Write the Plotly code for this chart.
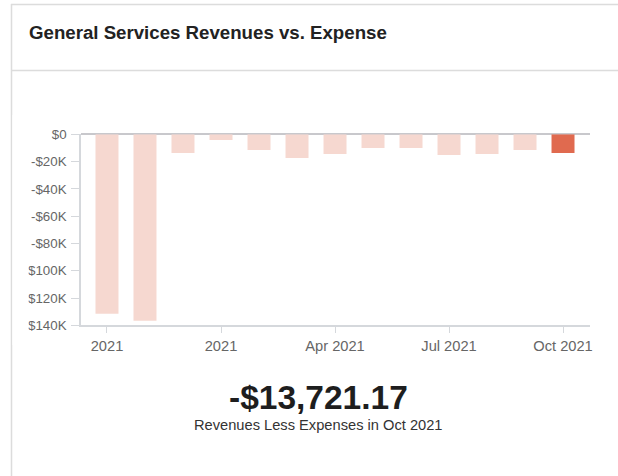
import plotly.graph_objects as go

# Monthly net result (revenues less expenses), Oct 2020 - Oct 2021
months = ["2020-10", "2020-11", "2020-12", "2021-01", "2021-02", "2021-03", "2021-04",
          "2021-05", "2021-06", "2021-07", "2021-08", "2021-09", "2021-10"]
net_values = [-131500, -136600, -13700, -4200, -11500, -17400, -14400,
              -10000, -10000, -15200, -14400, -11500, -13721.17]

# Axis ticks
x_tick_vals = ["2020-10", "2021-01", "2021-04", "2021-07", "2021-10"]
x_tick_text = ["2021", "2021", "Apr 2021", "Jul 2021", "Oct 2021"]
y_tick_vals = [0, -20000, -40000, -60000, -80000, -100000, -120000, -140000]
y_tick_text = ["$0", "-$20K", "-$40K", "-$60K", "-$80K", "-$100K", "-$120K", "-$140K"]

W, H = 618, 476
FONT = "Liberation Sans, Arial, sans-serif"
LIGHT = "#f6d8d0"
ACCENT = "#e06a4f"
AXIS = "#d5d8dc"
BORDER = "#dcdcdc"


def px(x):
    return x / W


def py(y):
    return 1 - y / H


colors = [LIGHT] * (len(months) - 1) + [ACCENT]

fig = go.Figure(
    go.Bar(
        x=months,
        y=net_values,
        marker=dict(color=colors, line=dict(width=0)),
        hoverinfo="skip",
    )
)

latest = net_values[-1]
sign = "-" if latest < 0 else ""
latest_text = f"{sign}${abs(latest):,.2f}"

fig.update_layout(
    width=W,
    height=H,
    margin=dict(l=0, r=0, t=0, b=0, autoexpand=False),
    paper_bgcolor="white",
    plot_bgcolor="white",
    showlegend=False,
    bargap=0.395,
    font=dict(family=FONT, color="#666666"),
    xaxis=dict(
        type="category",
        domain=[px(81), px(590)],
        range=[-0.684, 12.71],
        tickvals=x_tick_vals,
        ticktext=x_tick_text,
        ticks="outside",
        ticklen=6,
        tickcolor=AXIS,
        showline=True,
        linecolor=AXIS,
        linewidth=1.5,
        showgrid=False,
        automargin=False,
        tickfont=dict(size=14.67, color="#666666"),
    ),
    yaxis=dict(
        domain=[py(325.3), py(134.3)],
        range=[-140000, 0],
        tickvals=y_tick_vals,
        ticktext=y_tick_text,
        ticks="outside",
        ticklen=8,
        tickcolor=AXIS,
        ticklabelstandoff=2,
        showline=True,
        linecolor=AXIS,
        linewidth=1.5,
        showgrid=False,
        automargin=False,
        zeroline=True,
        zerolinecolor="#c8c8cc",
        zerolinewidth=1.5,
        tickfont=dict(size=13.33, color="#666666"),
    ),
    shapes=[
        # card frame and header divider
        dict(type="line", xref="paper", yref="paper", x0=px(11.5), x1=px(11.5),
             y0=py(4), y1=0, line=dict(color=BORDER, width=1.5)),
        dict(type="line", xref="paper", yref="paper", x0=px(11), x1=1,
             y0=py(4.5), y1=py(4.5), line=dict(color=BORDER, width=1.5)),
        dict(type="line", xref="paper", yref="paper", x0=px(11), x1=1,
             y0=py(70.5), y1=py(70.5), line=dict(color=BORDER, width=1.5)),
        # chart container edge
        dict(type="rect", xref="paper", yref="paper", x0=px(12.5), x1=px(28.5),
             y0=py(345), y1=py(115), fillcolor="white", line=dict(width=0),
             layer="above"),
    ],
    annotations=[
        dict(text="<b>General Services Revenues vs. Expense</b>", xref="paper", yref="paper",
             x=px(27), y=py(33), xanchor="left", yanchor="middle", showarrow=False,
             font=dict(family=FONT, size=18.67, color="#222222")),
        dict(text=f"<b>{latest_text}</b>", xref="paper", yref="paper",
             x=px(318), y=py(397), xanchor="center", yanchor="middle", showarrow=False,
             font=dict(family=FONT, size=33.5, color="#1e1e1e")),
        dict(text="Revenues Less Expenses in Oct 2021", xref="paper", yref="paper",
             x=px(318), y=py(425), xanchor="center", yanchor="middle", showarrow=False,
             font=dict(family=FONT, size=14.67, color="#333333")),
    ],
)

fig.write_html("out.html")
